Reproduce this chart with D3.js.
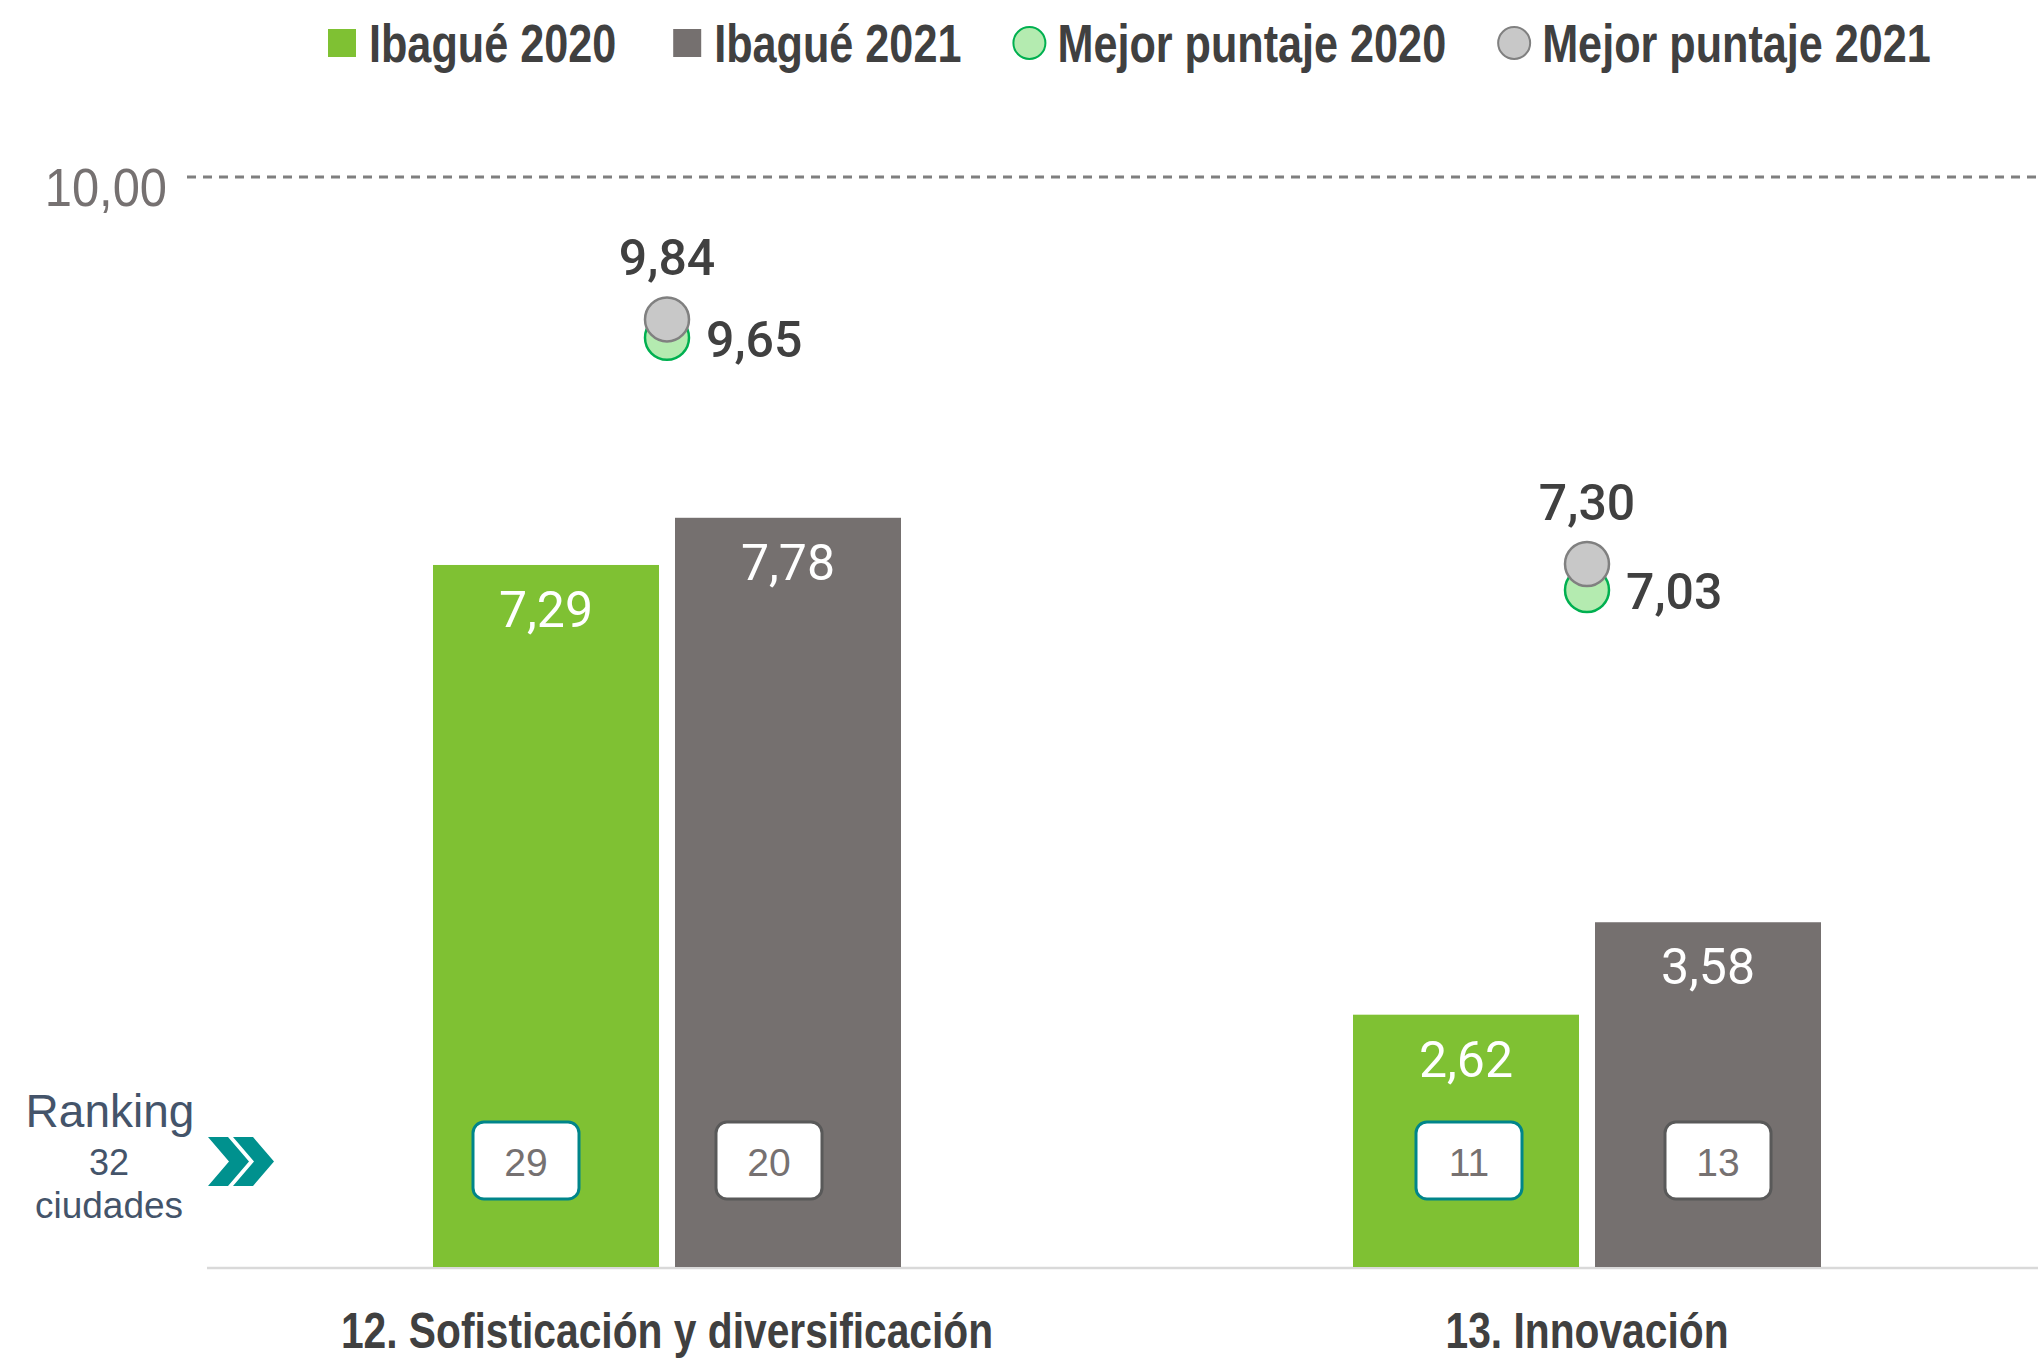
<!DOCTYPE html>
<html><head><meta charset="utf-8">
<script src="https://cdn.jsdelivr.net/npm/d3@7"></script>
<style>html,body{margin:0;padding:0;background:#fff;overflow:hidden}</style>
</head><body>
<svg id="chart" width="2038" height="1359"></svg>
<script>
// ---------- data ----------
const categories = ["12. Sofisticación y diversificación", "13. Innovación"];
const series = ["Ibagué 2020", "Ibagué 2021"];
const ibague2020 = [7.29, 2.62];
const ibague2021 = [7.78, 3.58];
const mejor2020 = [9.65, 7.03];
const mejor2021 = [9.84, 7.30];
const ranking2020 = [29, 11];
const ranking2021 = [20, 13];
const legendLabels = ["Ibagué 2020", "Ibagué 2021", "Mejor puntaje 2020", "Mejor puntaje 2021"];
const refLabel = "10,00";
const rankingTitle = ["Ranking", "32", "ciudades"];

// ---------- layout / style ----------
const W = 2038, H = 1359;
const baseY = 1267;
const unitPx = 96.3;
const refLineY = 177;
const groupBarsWidth = 468;
const boxShift = [[-20, -19], [3, 10]];
const narrowScale = 0.815;
const C = {
  green: "#7FC133", gray: "#75706F", text: "#404040", axis: "#767171",
  mGreenFill: "#B4EBB0", mGreenStroke: "#00B050", mGrayFill: "#C8C8C8", mGrayStroke: "#808080",
  teal: "#00918E", boxTeal: "#00858A", boxGray: "#595959", rank: "#44546A"
};
const fBold = "'Liberation Sans',Arial,sans-serif";
const fSans = "'Liberation Sans',Arial,sans-serif";
const fNum = "Roboto,'Liberation Sans',sans-serif";
const fmt = v => d3.format(".2f")(v).replace(".", ",");

const svg = d3.select("#chart");

// condensed bold text: Liberation Sans Bold squeezed horizontally (Arial Narrow look)
function narrowText(parent, x, yy, str, size, anchor) {
  const g = parent.append("g").attr("transform", `translate(${x},${yy}) scale(${narrowScale},1)`);
  return g.append("text").attr("x", 0).attr("y", 0).attr("text-anchor", anchor || "start")
    .attr("font-family", fBold).attr("font-weight", "bold").attr("font-size", size)
    .attr("fill", C.text).text(str);
}

const x0 = d3.scaleBand().domain(categories).range([207, 2047]).paddingInner(0).paddingOuter(0);
const x1 = d3.scaleBand().domain(series).range([0, groupBarsWidth]).paddingInner(0.0661).paddingOuter(0);
const y = d3.scaleLinear().domain([0, 10]).range([baseY, baseY - unitPx * 10]);
const color = d3.scaleOrdinal().domain(series).range([C.green, C.gray]);
const groupOff = (x0.bandwidth() - groupBarsWidth) / 2;
const cx = c => x0(c) + x0.bandwidth() / 2;

// reference dashed line
svg.append("line").attr("x1", 187).attr("x2", W).attr("y1", refLineY).attr("y2", refLineY)
  .attr("stroke", "#7F7F7F").attr("stroke-width", 3).attr("stroke-dasharray", "9,7");
svg.append("g").attr("transform", `translate(167,${refLineY + 29}) scale(0.94,1.04)`)
  .append("text").attr("x", 0).attr("y", 0).attr("text-anchor", "end")
  .attr("font-family", fSans).attr("font-size", 52).attr("fill", C.axis).text(refLabel);

// baseline
svg.append("line").attr("x1", 207).attr("x2", W).attr("y1", baseY + 1).attr("y2", baseY + 1)
  .attr("stroke", "#D9D9D9").attr("stroke-width", 2.5);

// bars
const rows = [];
categories.forEach((c, i) => {
  rows.push({cat: c, s: series[0], v: ibague2020[i], rank: ranking2020[i], shift: boxShift[i][0], stroke: C.boxTeal});
  rows.push({cat: c, s: series[1], v: ibague2021[i], rank: ranking2021[i], shift: boxShift[i][1], stroke: C.boxGray});
});
const barX = d => x0(d.cat) + groupOff + x1(d.s);
svg.append("g").selectAll("rect").data(rows).join("rect")
  .attr("x", barX).attr("y", d => y(d.v))
  .attr("width", x1.bandwidth()).attr("height", d => y(0) - y(d.v))
  .attr("fill", d => color(d.s));

svg.append("g").selectAll("text").data(rows).join("text")
  .attr("x", d => barX(d) + x1.bandwidth() / 2).attr("y", d => y(d.v) + 62)
  .attr("text-anchor", "middle").attr("font-family", fNum).attr("font-size", 50)
  .attr("fill", "#fff").text(d => fmt(d.v));

// ranking boxes
const bw = 106, bh = 77, by = 1122;
const boxes = svg.append("g").selectAll("g").data(rows).join("g")
  .attr("transform", d => `translate(${barX(d) + x1.bandwidth() / 2 + d.shift},${by})`);
boxes.append("rect").attr("x", -bw / 2).attr("y", 0).attr("width", bw).attr("height", bh)
  .attr("rx", 11).attr("fill", "#fff").attr("stroke", d => d.stroke).attr("stroke-width", 3);
boxes.append("text").attr("x", 0).attr("y", 54).attr("text-anchor", "middle")
  .attr("font-family", fSans).attr("font-size", 39).attr("fill", C.axis).text(d => d.rank);

// markers
const mg = svg.append("g");
categories.forEach((c, i) => {
  const x = cx(c);
  mg.append("circle").attr("cx", x).attr("cy", y(mejor2020[i])).attr("r", 22)
    .attr("fill", C.mGreenFill).attr("stroke", C.mGreenStroke).attr("stroke-width", 2.5);
  mg.append("circle").attr("cx", x).attr("cy", y(mejor2021[i])).attr("r", 22)
    .attr("fill", C.mGrayFill).attr("stroke", C.mGrayStroke).attr("stroke-width", 2.5);
  mg.append("text").attr("x", x).attr("y", y(mejor2021[i]) - 44).attr("text-anchor", "middle")
    .attr("font-family", fNum).attr("font-weight", 500).attr("font-size", 50).attr("fill", C.text)
    .text(fmt(mejor2021[i]));
  mg.append("text").attr("x", x + 39).attr("y", y(mejor2020[i]) + 19).attr("text-anchor", "start")
    .attr("font-family", fNum).attr("font-weight", 500).attr("font-size", 50).attr("fill", C.text)
    .text(fmt(mejor2020[i]));
});

// category labels
const catG = svg.append("g");
categories.forEach(c => narrowText(catG, cx(c), 1348, c, 50, "middle"));

// ranking title
const rk = svg.append("g").attr("fill", C.rank).attr("font-family", fSans).attr("text-anchor", "middle");
rk.append("text").attr("x", 110).attr("y", 1127).attr("font-size", 46).text(rankingTitle[0]);
rk.append("text").attr("x", 109).attr("y", 1175).attr("font-size", 36).text(rankingTitle[1]);
rk.append("text").attr("x", 109).attr("y", 1218).attr("font-size", 37).text(rankingTitle[2]);

// chevrons
const chev = (xs) => [[xs, 1137], [xs + 20, 1137], [xs + 41, 1161.5], [xs + 20, 1186], [xs, 1186], [xs + 21, 1161.5]];
[208, 233].forEach(xs => {
  svg.append("polygon").attr("points", chev(xs).map(p => p.join(",")).join(" ")).attr("fill", C.teal);
});

// legend
const lg = svg.append("g");
const symbols = [
  {type: "rect", fill: C.green},
  {type: "rect", fill: C.gray},
  {type: "circle", fill: C.mGreenFill, stroke: C.mGreenStroke},
  {type: "circle", fill: C.mGrayFill, stroke: C.mGrayStroke}
];
const legendGap = [57, 52, 52, 0];
let lx = 328;
legendLabels.forEach((lab, i) => {
  const s = symbols[i];
  if (s.type === "rect") {
    lg.append("rect").attr("x", lx).attr("y", 29).attr("width", 28).attr("height", 28).attr("fill", s.fill);
    lx += 28 + 13;
  } else {
    lg.append("circle").attr("cx", lx + 16).attr("cy", 43).attr("r", 16)
      .attr("fill", s.fill).attr("stroke", s.stroke).attr("stroke-width", 2);
    lx += 32 + 12;
  }
  const t = narrowText(lg, lx, 62, lab, 53, "start");
  lx += t.node().getComputedTextLength() * narrowScale + legendGap[i];
});
</script>
</body></html>
